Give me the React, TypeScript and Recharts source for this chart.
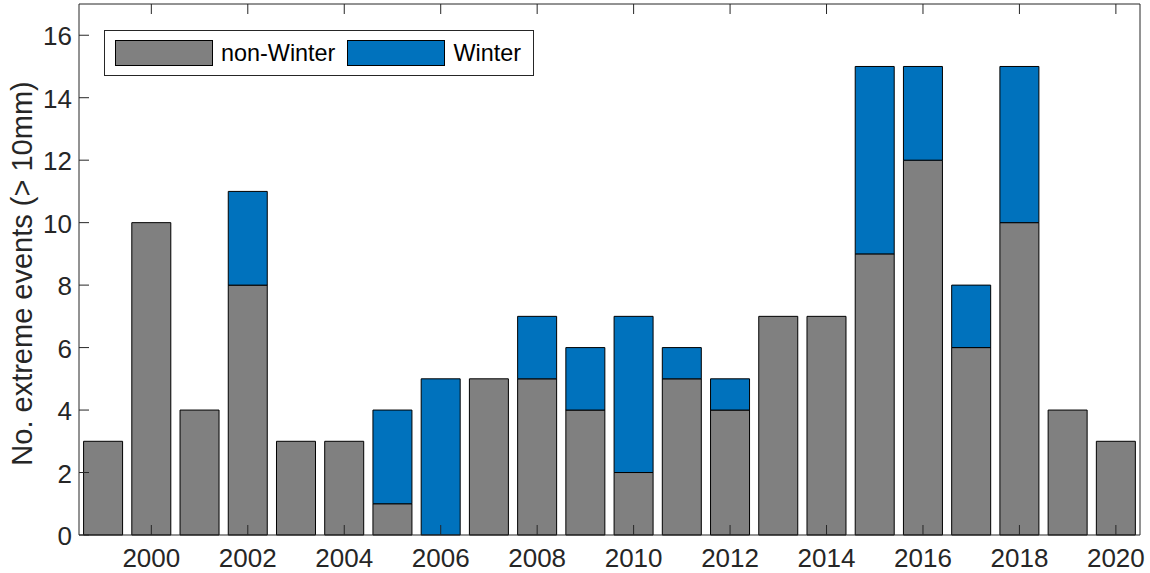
import { BarChart, Bar, XAxis, YAxis, Label } from 'recharts'

const years = [1999, 2000, 2001, 2002, 2003, 2004, 2005, 2006, 2007, 2008, 2009, 2010, 2011, 2012, 2013, 2014, 2015, 2016, 2017, 2018, 2019, 2020]
const nonWinter = [3, 10, 4, 8, 3, 3, 1, 0, 5, 5, 4, 2, 5, 4, 7, 7, 9, 12, 6, 10, 4, 3]
const winter = [0, 0, 0, 3, 0, 0, 3, 5, 0, 2, 2, 5, 1, 1, 0, 0, 6, 3, 2, 5, 0, 0]
const yTicks = [0, 2, 4, 6, 8, 10, 12, 14, 16]
const xTickYears = [2000, 2002, 2004, 2006, 2008, 2010, 2012, 2014, 2016, 2018, 2020]

const data = years.map((year, i) => ({ year, nonWinter: nonWinter[i], winter: winter[i] }))

const AXIS = '#262626'
const GRAY = '#808080'
const BLUE = '#0072BD'
const FONT = '"Liberation Sans", Arial, Helvetica, sans-serif'
const TICK_LEN = 10

// bottom axis: inward tick mark + year label, every other year only
function BottomTick({ x, y, payload }: any) {
  if (!xTickYears.includes(payload.value)) return null
  return (
    <g>
      <line x1={x} x2={x} y1={y} y2={y - TICK_LEN} stroke={AXIS} strokeWidth={1} />
      <text x={x} y={y + 32} textAnchor="middle" fill={AXIS} fontSize={26} fontFamily={FONT}>
        {payload.value}
      </text>
    </g>
  )
}

function TopTick({ x, y, payload }: any) {
  if (!xTickYears.includes(payload.value)) return null
  return <line x1={x} x2={x} y1={y} y2={y + TICK_LEN} stroke={AXIS} strokeWidth={1} />
}

function LeftTick({ x, y, payload }: any) {
  return (
    <g>
      <line x1={x} x2={x + TICK_LEN} y1={y} y2={y} stroke={AXIS} strokeWidth={1} />
      <text x={x - 7} y={y + 10} textAnchor="end" fill={AXIS} fontSize={26} fontFamily={FONT}>
        {payload.value}
      </text>
    </g>
  )
}

function RightTick({ x, y }: any) {
  return <line x1={x} x2={x - TICK_LEN} y1={y} y2={y} stroke={AXIS} strokeWidth={1} />
}

function YLabel({ viewBox }: any) {
  const cx = 32
  const cy = viewBox.y + viewBox.height / 2 + 4
  return (
    <text
      x={cx}
      y={cy}
      transform={`rotate(-90 ${cx} ${cy})`}
      textAnchor="middle"
      fill={AXIS}
      fontSize={29}
      fontFamily={FONT}
    >
      No. extreme events (&gt; 10mm)
    </text>
  )
}

const legendItems = [
  { name: 'non-Winter', color: GRAY },
  { name: 'Winter', color: BLUE },
]

function LegendBox() {
  return (
    <div
      style={{
        position: 'absolute',
        left: 104,
        top: 30,
        height: 46,
        boxSizing: 'border-box',
        border: `1px solid ${AXIS}`,
        background: '#fff',
        display: 'flex',
        alignItems: 'center',
        paddingLeft: 10,
        paddingRight: 12,
        fontFamily: FONT,
        fontSize: 23.4,
        color: '#000',
      }}
    >
      {legendItems.map((item, i) => (
        <div key={item.name} style={{ display: 'flex', alignItems: 'center', marginLeft: i === 0 ? 0 : 12 }}>
          <div
            style={{
              width: 98,
              height: 26,
              boxSizing: 'border-box',
              background: item.color,
              border: '1px solid #000',
              marginRight: 8,
            }}
          />
          <span>{item.name}</span>
        </div>
      ))}
    </div>
  )
}

export default function App() {
  return (
    <div style={{ position: 'absolute', left: 0, top: 0, width: 1150, height: 573, background: '#fff' }}>
      <BarChart
        width={1150}
        height={573}
        data={data}
        margin={{ top: 0, right: 0, bottom: 0, left: 0 }}
        barCategoryGap="9.5%"
      >
        <XAxis
          dataKey="year"
          type="category"
          interval={0}
          height={38}
          tickSize={0}
          tickMargin={0}
          tickLine={false}
          axisLine={{ stroke: AXIS, strokeWidth: 1 }}
          tick={<BottomTick />}
        />
        <XAxis
          xAxisId="top"
          dataKey="year"
          type="category"
          orientation="top"
          interval={0}
          height={4}
          tickSize={0}
          tickMargin={0}
          tickLine={false}
          axisLine={{ stroke: AXIS, strokeWidth: 1 }}
          tick={<TopTick />}
        />
        <YAxis
          domain={[0, 17]}
          ticks={yTicks}
          interval={0}
          width={79}
          tickSize={0}
          tickMargin={0}
          tickLine={false}
          axisLine={{ stroke: AXIS, strokeWidth: 1 }}
          tick={<LeftTick />}
        >
          <Label content={<YLabel />} />
        </YAxis>
        <YAxis
          yAxisId="right"
          orientation="right"
          domain={[0, 17]}
          ticks={yTicks}
          interval={0}
          width={10}
          tickSize={0}
          tickMargin={0}
          tickLine={false}
          axisLine={{ stroke: AXIS, strokeWidth: 1 }}
          tick={<RightTick />}
        />
        <Bar dataKey="nonWinter" stackId="a" fill={GRAY} stroke="#000" strokeWidth={1} isAnimationActive={false} />
        <Bar dataKey="winter" stackId="a" fill={BLUE} stroke="#000" strokeWidth={1} isAnimationActive={false} />
      </BarChart>
      <LegendBox />
    </div>
  )
}
